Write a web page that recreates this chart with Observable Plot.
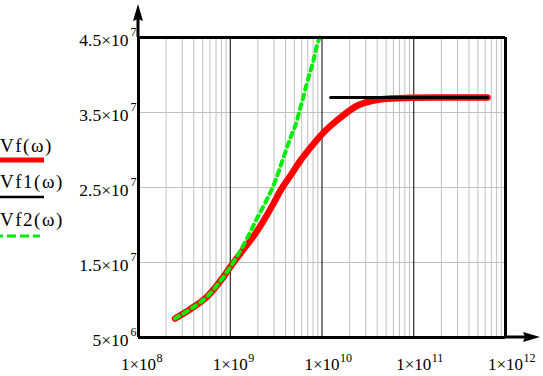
<!DOCTYPE html>
<html><head><meta charset="utf-8">
<script src="https://cdn.jsdelivr.net/npm/d3@7"></script>
<script src="https://cdn.jsdelivr.net/npm/@observablehq/plot@0.6"></script>
<style>
html,body{margin:0;padding:0;background:#fff;}
#wrap{position:relative;width:543px;height:376px;overflow:hidden;font-family:'Liberation Serif',serif;}
#wrap svg{position:absolute;left:0;top:0;}
#wrap text{font-family:'Liberation Serif',serif;}
</style></head><body><div id="wrap"></div>
<script>
// ---- data ----
const vfOmega = [2.5e8, 3.69e8, 5.65e8, 8.44e8, 1.0e9, 1.29e9, 1.98e9, 2.96e9, 3.53e9, 4.54e9, 5.83e9, 7.5e9, 1.04e10, 1.59e10, 2.44e10, 3.64e10, 5.58e10, 1.64e11, 6.37e11];
const vfValue = [7.53e6, 8.8e6, 1.05e7, 1.31e7, 1.44e7, 1.62e7, 1.927e7, 2.287e7, 2.46e7, 2.66e7, 2.86e7, 3.033e7, 3.233e7, 3.433e7, 3.593e7, 3.66e7, 3.687e7, 3.70e7, 3.70e7];
const vf1Omega = [1.24e10, 6.37e11];
const vf1Value = [3.70e7, 3.70e7];
const vf2Omega = [2.5e8, 3.69e8, 5.65e8, 8.44e8, 1.2e9, 1.54e9, 1.98e9, 2.42e9, 3.11e9, 3.71e9, 4.42e9, 4.77e9, 5.27e9, 5.69e9, 6.12e9, 6.61e9, 7.13e9, 7.87e9, 9.16e9, 9.5e9];
const vf2Value = [7.53e6, 8.8e6, 1.05e7, 1.31e7, 1.593e7, 1.833e7, 2.1e7, 2.3e7, 2.593e7, 2.86e7, 3.127e7, 3.233e7, 3.367e7, 3.527e7, 3.66e7, 3.82e7, 3.967e7, 4.14e7, 4.46e7, 4.5e7];

const xTicks = [1e8, 1e9, 1e10, 1e11, 1e12];
const xTickMant = ["1×10", "1×10", "1×10", "1×10", "1×10"];
const xTickExp = ["8", "9", "10", "11", "12"];
const yTicks = [5e6, 1.5e7, 2.5e7, 3.5e7, 4.5e7];
const yTickMant = ["5×10", "1.5×10", "2.5×10", "3.5×10", "4.5×10"];
const yTickExp = ["6", "7", "7", "7", "7"];
const legendLabels = ["Vf(ω)", "Vf1(ω)", "Vf2(ω)"];
const legendColors = ["#ff0000", "#000000", "#00ee00"];

// ---- derived ----
const vf = vfOmega.map((w, i) => ({w, v: vfValue[i]}));
const vf1 = vf1Omega.map((w, i) => ({w, v: vf1Value[i]}));
const vf2 = vf2Omega.map((w, i) => ({w, v: vf2Value[i]}));
const minorX = [];
for (let k = 8; k < 12; k++) for (let m = 2; m <= 9; m++) minorX.push(m * 10 ** k);
const majorX = xTicks.slice(1, -1);
const gridY = yTicks.slice(1, -1);
const xLab = xTicks.map((t, i) => ({t, m: xTickMant[i], e: xTickExp[i]}));
const yLab = yTicks.map((t, i) => ({t, m: yTickMant[i], e: yTickExp[i]}));

const serif = "Liberation Serif";
const mL = 138, mR = 38, mT = 37, mB = 39;
const plot = Plot.plot({
  width: 543, height: 376,
  marginLeft: mL, marginRight: mR, marginTop: mT, marginBottom: mB,
  style: {fontFamily: serif, background: "transparent", overflow: "visible"},
  x: {type: "log", domain: [1e8, 1e12], axis: null},
  y: {domain: [5e6, 4.5e7], axis: null},
  marks: [
    Plot.ruleX(minorX, {stroke: "#c0c0c0", strokeWidth: 1}),
    Plot.ruleY(gridY, {stroke: "#c0c0c0", strokeWidth: 1}),
    Plot.ruleX(majorX, {stroke: "#000", strokeWidth: 1}),
    Plot.line(vf, {x: "w", y: "v", curve: "monotone-x", stroke: legendColors[0], strokeWidth: 6.5, strokeLinecap: "round", strokeLinejoin: "round"}),
    Plot.line(vf1, {x: "w", y: "v", stroke: legendColors[1], strokeWidth: 3}),
    Plot.line(vf2, {x: "w", y: "v", curve: "monotone-x", stroke: legendColors[2], strokeWidth: 4, strokeDasharray: "5,5"}),
    Plot.ruleY([yTicks[yTicks.length - 1]], {stroke: "#000", strokeWidth: 3}),
    Plot.ruleX([xTicks[xTicks.length - 1]], {stroke: "#000", strokeWidth: 3}),
    Plot.ruleX([xTicks[0]], {stroke: "#000", strokeWidth: 3}),
    Plot.ruleY([yTicks[0]], {stroke: "#000", strokeWidth: 3}),
    Plot.text(yLab, {y: "t", text: "m", frameAnchor: "left", textAnchor: "end", lineAnchor: "bottom", dx: -10, dy: 8.5, fontSize: 17.5, fontFamily: serif, fill: "#000"}),
    Plot.text(yLab, {y: "t", text: "e", frameAnchor: "left", textAnchor: "start", lineAnchor: "bottom", dx: -8, dy: -1.5, fontSize: 12, fontFamily: serif, fill: "#000"}),
    Plot.text(xLab, {x: "t", text: "m", frameAnchor: "bottom", textAnchor: "middle", lineAnchor: "bottom", dy: 32, fontSize: 17, fontFamily: serif, fill: "#000"}),
    Plot.text(xLab, {x: "t", text: "e", frameAnchor: "bottom", textAnchor: "start", lineAnchor: "bottom", dx: 18, dy: 24, fontSize: 12, fontFamily: serif, fill: "#000"})
  ]
});
const wrap = document.getElementById("wrap");
wrap.appendChild(plot);

// axis arrowheads
const svg = d3.select(plot);
const x0 = mL, yb = 376 - mB;
svg.append("line").attr("x1", x0).attr("x2", x0).attr("y1", mT).attr("y2", 12).attr("stroke", "#000").attr("stroke-width", 3);
svg.append("path").attr("d", `M${x0},4 L${x0 + 5},21 L${x0},19 L${x0 - 5},21 Z`).attr("fill", "#000");
svg.append("line").attr("x1", 543 - mR).attr("x2", 532).attr("y1", yb).attr("y2", yb).attr("stroke", "#000").attr("stroke-width", 3);
svg.append("path").attr("d", `M540,${yb} L523,${yb - 5} L525,${yb} L523,${yb + 5} Z`).attr("fill", "#000");

// legend
const leg = d3.select(wrap).append("svg").attr("width", 70).attr("height", 376);
const baseY = [152, 188, 226], lineY = [160, 197, 236];
legendLabels.forEach((lab, i) => {
  leg.append("text").attr("x", 0).attr("y", baseY[i]).attr("font-size", 19).attr("font-family", serif).attr("letter-spacing", 1.5).text(lab);
  leg.append("line").attr("x1", 0).attr("x2", i === 2 ? 40 : 44).attr("y1", lineY[i]).attr("y2", lineY[i])
    .attr("stroke", legendColors[i]).attr("stroke-width", i === 0 ? 5 : i === 1 ? 2.5 : 3)
    .attr("stroke-dasharray", i === 2 ? "9,4" : null).attr("stroke-dashoffset", i === 2 ? 6 : null);
});
</script></body></html>
